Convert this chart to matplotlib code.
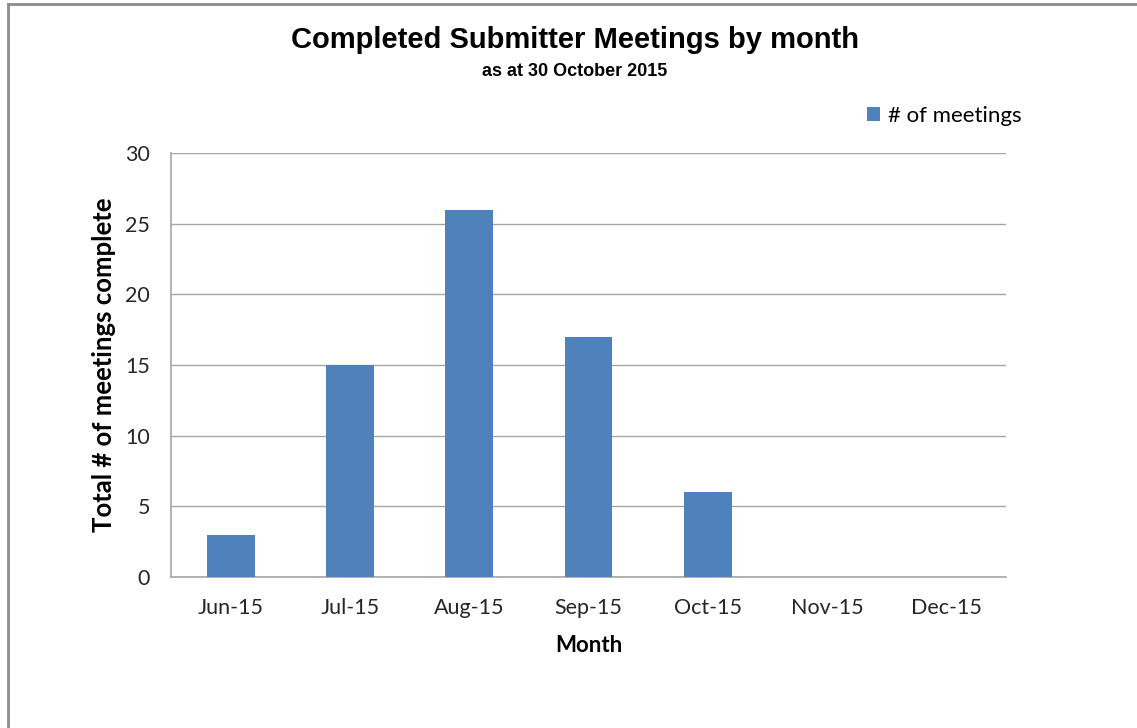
import matplotlib
matplotlib.use("Agg")
import matplotlib.pyplot as plt
from matplotlib.lines import Line2D
from matplotlib.patches import Patch

months = ["Jun-15", "Jul-15", "Aug-15", "Sep-15", "Oct-15", "Nov-15", "Dec-15"]
meetings = [3, 15, 26, 17, 6, 0, 0]
yticks = [0, 5, 10, 15, 20, 25, 30]

W, H = 1137, 728
fig = plt.figure(figsize=(W / 100, H / 100), dpi=100)
fig.patch.set_facecolor("white")

body = ["Lato", "Open Sans", "DejaVu Sans"]
head = ["Liberation Sans", "DejaVu Sans"]
narrow = ["Liberation Sans Narrow", "Liberation Sans", "DejaVu Sans"]

# outer frame (left and top edges visible)
fig.add_artist(Line2D([8 / W, 8 / W], [0, 1 - 4 / H], transform=fig.transFigure,
                      color="#8c8c8c", lw=2))
fig.add_artist(Line2D([8 / W, 1], [1 - 4 / H, 1 - 4 / H], transform=fig.transFigure,
                      color="#8c8c8c", lw=2))

left, right, top, bottom = 171, 1006, 153, 577
ax = fig.add_axes([left / W, 1 - bottom / H, (right - left) / W, (bottom - top) / H])
x = list(range(len(months)))
ax.bar(x, meetings, width=0.40, color="#4F81BD", zorder=3)
ax.set_xlim(-0.5, len(months) - 0.5)
ax.set_ylim(0, 30)
ax.set_yticks(yticks)
ax.set_xticks(x)
ax.set_xticklabels(months, fontsize=15.5, family=body, color="#262626")
ax.set_yticklabels([str(v) for v in yticks], fontsize=15.5, family=body, color="#262626")
ax.tick_params(axis="both", length=0)
ax.tick_params(axis="x", pad=15)
ax.tick_params(axis="y", pad=15)
ax.grid(axis="y", color="#a6a6a6", lw=1, zorder=0)
for s in ["top", "right"]:
    ax.spines[s].set_visible(False)
for s in ["left", "bottom"]:
    ax.spines[s].set_color("#a6a6a6")
    ax.spines[s].set_linewidth(1.2)

ax.set_xlabel("Month", fontsize=16, fontweight="bold", family=body, labelpad=12)
ax.set_ylabel("Total # of meetings complete", fontsize=18.5, fontweight="bold",
              family=body)
ax.yaxis.set_label_coords((116 - left) / (right - left), 0.5)

fig.text(575 / W, 1 - 40 / H, "Completed Submitter Meetings by month", ha="center",
         va="center", fontsize=21, fontweight="bold", family=head)
fig.text(575 / W, 1 - 72 / H, "as at 30 October 2015", ha="center", va="center",
         fontsize=13, fontweight="bold", family=narrow)

fig.legend(handles=[Patch(facecolor="#4F81BD", label="# of meetings")],
           loc="center left", bbox_to_anchor=(847 / W, 1 - 116 / H), frameon=False,
           handlelength=0.6, handleheight=0.6, handletextpad=0.35,
           prop={"family": body, "size": 16})

fig.savefig("out.png", dpi=100, facecolor="white")
